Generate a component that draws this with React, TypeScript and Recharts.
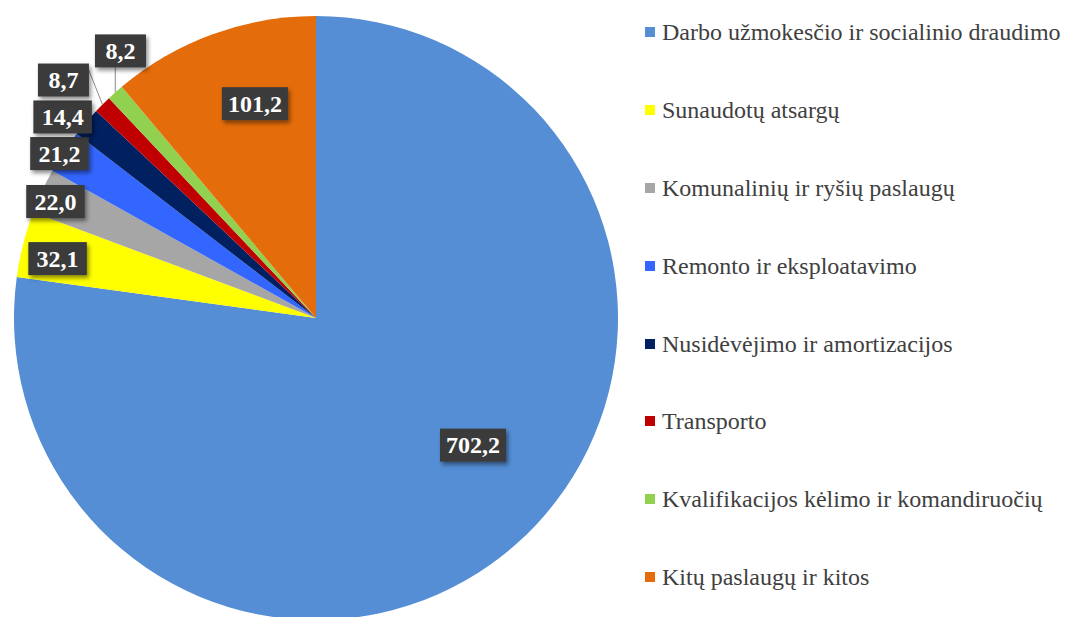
import { PieChart, Pie, Cell, Legend } from "recharts";

const CATEGORIES = [
  "Darbo užmokesčio ir socialinio draudimo",
  "Sunaudotų atsargų",
  "Komunalinių ir ryšių paslaugų",
  "Remonto ir eksploatavimo",
  "Nusidėvėjimo ir amortizacijos",
  "Transporto",
  "Kvalifikacijos kėlimo ir komandiruočių",
  "Kitų paslaugų ir kitos",
];
const VALUES = [702.2, 32.1, 22.0, 21.2, 14.4, 8.7, 8.2, 101.2];
const COLORS = [
  "#558ED5",
  "#FFFF00",
  "#A6A6A6",
  "#3366FF",
  "#002060",
  "#C00000",
  "#92D050",
  "#E46C0A",
];

// label placement: fraction of radius and clockwise shift (deg) from slice middle
const LABEL_RADIUS = [0.669, 0.878, 0.945, 1.009, 1.071, 1.149, 1.096, 0.738];
const LABEL_SHIFT = [-9.9, -1.2, -0.75, -0.73, -2.0, -1.7, 5.45, 4.1];
const HAS_LEADER = [false, false, false, false, false, true, true, false];

const SERIF =
  '"Liberation Serif", Tinos, "Noto Serif", "Times New Roman", Times, "DejaVu Serif", FreeSerif, serif';

const RAD = Math.PI / 180;
const polar = (cx: number, cy: number, r: number, angle: number) => [
  cx + r * Math.cos(-angle * RAD),
  cy + r * Math.sin(-angle * RAD),
];

const data = CATEGORIES.map((name, i) => ({
  name,
  value: VALUES[i],
  fill: COLORS[i],
}));

const renderLabel = (props: any) => {
  const { cx, cy, midAngle, outerRadius, index, value } = props;
  const angle = midAngle - LABEL_SHIFT[index];
  const [x, y] = polar(cx, cy, outerRadius * LABEL_RADIUS[index], angle);
  const text = Number(value).toFixed(1).replace(".", ",");
  const digits = text.length - 1;
  const w = 7.5 * digits + 36;
  const h = 33;
  const left = x - w / 2;
  const top = y - h / 2;

  let leader = null;
  if (HAS_LEADER[index]) {
    const [ex, ey] = polar(cx, cy, outerRadius, midAngle);
    let lx = left + w;
    let ly = top + 7;
    if (ex >= left && ex <= left + w) {
      lx = ex;
      ly = top + h;
    }
    leader = (
      <line x1={ex} y1={ey} x2={lx} y2={ly} stroke="#8C8C8C" strokeWidth={1} />
    );
  }

  return (
    <g>
      {leader}
      <rect
        x={left}
        y={top}
        width={w}
        height={h}
        fill="#3B3B3B"
        filter="url(#boxShadow)"
      />
      <text
        x={x}
        y={y}
        dy="0.34em"
        textAnchor="middle"
        fill="#FFFFFF"
        style={{ fontFamily: SERIF, fontWeight: 700, fontSize: 24 }}
      >
        {text}
      </text>
    </g>
  );
};

const renderLegend = ({ payload }: any) => {
  const items = [...(payload || [])].sort(
    (a: any, b: any) => CATEGORIES.indexOf(a.value) - CATEGORIES.indexOf(b.value),
  );
  return (
    <div style={{ paddingTop: 20 }}>
      {items.map((entry: any, i: number) => (
        <div
          key={`leg-${i}`}
          style={{
            display: "flex",
            alignItems: "center",
            height: 24,
            marginBottom: 53.9,
          }}
        >
          <span
            style={{
              width: 10,
              height: 10,
              background: entry.color,
              marginLeft: 5,
              marginRight: 7,
              flexShrink: 0,
            }}
          />
          <span
            style={{
              fontFamily: SERIF,
              fontSize: 24,
              color: "#404040",
              whiteSpace: "nowrap",
              lineHeight: "24px",
            }}
          >
            {entry.value}
          </span>
        </div>
      ))}
    </div>
  );
};

export default function App() {
  return (
    <div
      style={{
        position: "absolute",
        left: 0,
        top: 0,
        width: 1077,
        height: 617,
        background: "#FFFFFF",
        overflow: "hidden",
        fontFamily: SERIF,
      }}
    >
      <style>{`.recharts-pie-sectors { filter: drop-shadow(0 0 5px rgba(0,0,0,0.25)); }`}</style>
      <PieChart
        width={1077}
        height={617}
        margin={{ top: 0, right: 0, bottom: 0, left: 0 }}
        style={{ fontFamily: SERIF }}
      >
        <defs>
          <filter id="boxShadow" x="-20%" y="-20%" width="150%" height="160%">
            <feDropShadow
              dx={2}
              dy={3}
              stdDeviation={2}
              floodColor="#000000"
              floodOpacity={0.45}
            />
          </filter>
        </defs>
        <Pie
          data={data}
          dataKey="value"
          nameKey="name"
          cx={316}
          cy={318}
          outerRadius={302}
          startAngle={90}
          endAngle={-270}
          stroke="none"
          label={renderLabel}
          labelLine={false}
          isAnimationActive={false}
        >
          {data.map((entry, i) => (
            <Cell key={`cell-${i}`} fill={entry.fill} />
          ))}
        </Pie>
        <Legend
          layout="vertical"
          align="right"
          verticalAlign="top"
          itemSorter={(item: any) => CATEGORIES.indexOf(item.value)}
          content={renderLegend}
          wrapperStyle={{ left: 640, top: 0, width: 437, right: "auto" }}
        />
      </PieChart>
    </div>
  );
}
